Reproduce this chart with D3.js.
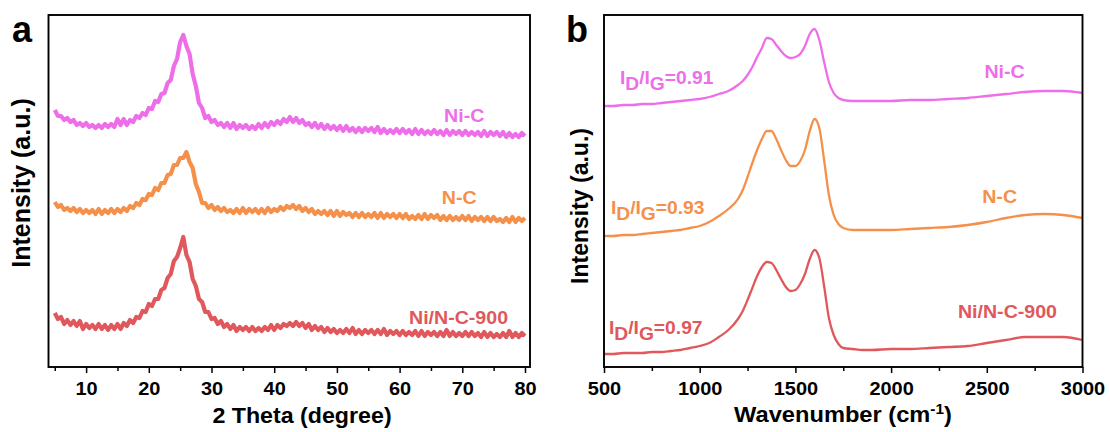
<!DOCTYPE html>
<html>
<head>
<meta charset="utf-8">
<script src="https://cdn.jsdelivr.net/npm/d3@7/dist/d3.min.js"></script>
<style>
  html, body { margin: 0; padding: 0; background: #fff; }
  svg { display: block; font-family: "Liberation Sans", Arial, sans-serif; }
</style>
</head>
<body>
<svg id="chart" width="1110" height="432"></svg>
<script>
// ---------- XRD patterns (counts, stacked) ----------
const twoTheta = d3.range(5, 80.001, 0.5);

const xrdNiC = [
  2570,2510,2510,2470,2490,2450,2470,2420,2440,2410,2440,2400,2420,2390,2420,2390,2430,2400,2430,2400,
  2480,2420,2480,2420,2470,2450,2510,2490,2540,2520,2590,2580,2660,2650,2730,2740,2840,2870,3010,3080,
  3250,3320,3210,3130,2930,2810,2640,2590,2490,2510,2450,2470,2420,2440,2400,2440,2390,2440,2380,2420,
  2390,2420,2380,2410,2380,2430,2390,2440,2400,2450,2420,2460,2430,2480,2450,2500,2450,2490,2440,2470,
  2420,2440,2400,2440,2390,2430,2380,2420,2380,2410,2370,2410,2360,2410,2360,2390,2350,2390,2350,2390,
  2360,2390,2350,2400,2340,2380,2340,2370,2340,2380,2340,2380,2340,2370,2330,2380,2330,2370,2330,2360,
  2330,2370,2330,2360,2320,2370,2320,2360,2330,2360,2320,2360,2320,2350,2320,2350,2310,2360,2310,2350,
  2320,2350,2310,2350,2300,2340,2300,2330,2300,2340,2310
];

const xrdNC = [
  1650,1600,1620,1570,1590,1560,1590,1550,1580,1540,1570,1540,1570,1530,1580,1530,1570,1540,1580,1540,
  1580,1550,1590,1560,1610,1590,1640,1620,1680,1670,1730,1720,1790,1770,1840,1840,1920,1930,2020,2020,
  2090,2090,2150,2050,1990,1830,1750,1640,1640,1590,1620,1570,1600,1560,1590,1550,1570,1540,1580,1540,
  1590,1540,1580,1550,1580,1540,1580,1540,1590,1550,1580,1560,1600,1570,1610,1590,1620,1580,1610,1560,
  1590,1550,1580,1530,1560,1530,1560,1520,1560,1510,1560,1510,1550,1520,1540,1500,1540,1500,1540,1500,
  1530,1500,1540,1490,1540,1490,1530,1500,1530,1490,1530,1490,1530,1480,1510,1480,1520,1480,1530,1480,
  1520,1490,1520,1470,1510,1470,1510,1470,1500,1470,1510,1470,1510,1460,1500,1470,1500,1460,1500,1460,
  1500,1460,1480,1450,1490,1450,1500,1450,1490,1460,1490
];

const xrdNiNC900 = [
  540,480,500,430,470,420,460,410,460,380,430,390,420,380,430,380,420,370,420,380,
  430,380,440,410,470,440,500,490,560,550,630,610,680,680,770,790,890,930,1060,1100,
  1190,1300,1120,1050,880,810,680,650,550,550,480,490,430,460,400,430,380,420,360,400,
  370,400,360,400,360,390,360,400,370,420,370,420,390,430,410,440,410,450,410,440,
  390,430,370,410,370,400,350,390,350,380,340,370,340,380,340,390,330,370,330,370,
  340,370,330,370,330,380,320,360,330,360,320,360,320,350,320,360,310,360,310,350,
  320,350,310,350,310,370,310,350,310,340,310,350,310,350,310,340,300,350,300,340,
  300,330,300,340,300,360,300,340,300,340,310
];

// ---------- Raman spectra (counts, stacked) ----------
const wavenumber = [
  500,550,600,650,700,750,800,850,900,950,1000,1050,1100,1150,1200,
  1225,1250,1275,1300,1325,1350,1375,1400,1425,1450,1475,1500,1525,1550,1575,1600,1625,1650,1675,1700,1725,1750,
  1800,1850,1900,2000,2100,2200,2300,2400,2500,2600,2700,2800,2900,3000
];

const ramanNiC = [
  2610,2610,2620,2620,2630,2630,2640,2650,2660,2670,2680,2700,2730,2760,2820,
  2860,2920,3000,3100,3190,3290,3280,3220,3160,3110,3090,3100,3130,3210,3330,3380,3270,3050,2850,2740,2690,2670,
  2660,2660,2660,2660,2670,2670,2680,2690,2710,2730,2750,2760,2760,2740
];

const ramanNC = [
  1310,1310,1320,1320,1330,1340,1350,1360,1370,1390,1410,1450,1510,1580,1680,
  1770,1900,2040,2170,2280,2360,2360,2280,2170,2070,2010,2010,2060,2170,2360,2480,2390,2070,1720,1520,1430,1390,
  1370,1370,1370,1370,1380,1390,1400,1420,1450,1490,1520,1530,1520,1490
];

const ramanNiNC900 = [
  130,130,140,140,140,150,150,160,170,190,210,240,300,370,480,
  560,670,790,910,1000,1050,1040,970,880,800,760,770,830,930,1080,1170,1090,810,490,320,230,190,
  180,170,170,180,180,190,200,210,240,270,300,300,300,270
];

const seriesNames = ["Ni-C", "N-C", "Ni/N-C-900"];
const ratioLabels = ["0.91", "0.93", "0.97"];
const colors = ["#EE6EEA", "#F5904A", "#E0585B"];

// ---------- layout ----------
const svg = d3.select("#chart");
const plotTop = 15, plotBottom = 367;
const FONT = "'Liberation Sans', Arial, sans-serif";
const WIDE = 1.08;   // slightly widened lettering

const y = d3.scaleLinear().domain([0, 3520]).range([plotBottom, plotTop]);

const xA = d3.scaleLinear().domain([4, 80.8]).range([48.5, 530]);
const xB = d3.scaleLinear().domain([500, 3000]).range([604, 1082.5]);

function frame(x) {
  const [x0, x1] = x.range();
  svg.append("rect")
    .attr("x", x0).attr("y", plotTop)
    .attr("width", x1 - x0).attr("height", plotBottom - plotTop)
    .attr("fill", "none").attr("stroke", "#000").attr("stroke-width", 1.9);
}

function bottomAxis(x, majors, minors) {
  const g = svg.append("g").attr("transform", `translate(0,${plotBottom})`);
  g.call(d3.axisBottom(x).tickValues(minors).tickSize(4).tickFormat(""))
    .call(s => s.select(".domain").remove())
    .selectAll("line").attr("stroke", "#000").attr("stroke-width", 1.5);
  const gm = svg.append("g").attr("transform", `translate(0,${plotBottom})`);
  gm.call(d3.axisBottom(x).tickValues(majors).tickSize(6).tickPadding(9).tickFormat(d3.format("d")))
    .call(s => s.select(".domain").remove());
  gm.selectAll("line").attr("stroke", "#000").attr("stroke-width", 1.5);
  gm.selectAll("text")
    .attr("fill", "#000")
    .attr("transform", `scale(${WIDE},1)`)
    .style("font-size", "18.5px")
    .style("font-weight", "bold")
    .style("font-family", FONT);
}

function drawLines(x, xs, sets, width, curve) {
  sets.forEach((vals, i) => {
    const line = d3.line()
      .x((d, j) => x(xs[j]))
      .y(d => y(d))
      .curve(curve);
    svg.append("path")
      .datum(vals)
      .attr("d", line)
      .attr("fill", "none")
      .attr("stroke", colors[i])
      .attr("stroke-width", width)
      .attr("stroke-linejoin", "round");
  });
}

function label(px, py, color, size, stretch) {
  return svg.append("text")
    .attr("transform", `translate(${px},${py}) scale(${stretch},1)`)
    .attr("fill", color)
    .style("font-size", size + "px").style("font-weight", "bold");
}

// ---------- panel a : XRD ----------
drawLines(xA, twoTheta, [xrdNiC, xrdNC, xrdNiNC900], 4.2, d3.curveLinear);
frame(xA);
bottomAxis(xA, d3.range(10, 81, 10), d3.range(5, 80, 10));

// sample names on the right of each pattern
const namePosA = [[70.3, 2450], [69.5, 1630], [69.4, 430]];
seriesNames.forEach((n, i) => {
  label(xA(namePosA[i][0]), y(namePosA[i][1]), colors[i], 17.5, 1.12)
    .attr("text-anchor", "middle").text(n);
});

label(302, 423, "#000", 21.5, WIDE).attr("text-anchor", "middle").text("2 Theta (degree)");

svg.append("text")
  .attr("transform", "translate(30,183) rotate(-90)")
  .attr("text-anchor", "middle")
  .style("font-size", "25px").style("font-weight", "bold")
  .text("Intensity (a.u.)");

svg.append("text")
  .attr("x", 12).attr("y", 42)
  .style("font-size", "36px").style("font-weight", "bold")
  .text("a");

// ---------- panel b : Raman ----------
drawLines(xB, wavenumber, [ramanNiC, ramanNC, ramanNiNC900], 2.3, d3.curveMonotoneX);
frame(xB);
bottomAxis(xB, d3.range(500, 3001, 500), d3.range(750, 3000, 500));

const namePosB = [[2593, 2890], [2567, 1640], [2608, 490]];
seriesNames.forEach((n, i) => {
  label(xB(namePosB[i][0]), y(namePosB[i][1]), colors[i], 17.5, 1.12)
    .attr("text-anchor", "middle").text(n);
});

// I_D/I_G ratio annotations
const ratioPos = [[583, 2830], [536, 1530], [526, 330]];
ratioLabels.forEach((r, i) => {
  const t = label(xB(ratioPos[i][0]), y(ratioPos[i][1]), colors[i], 17.5, 1.1);
  t.append("tspan").text("I");
  t.append("tspan").attr("dy", 6).text("D");
  t.append("tspan").attr("dy", -6).text("/I");
  t.append("tspan").attr("dy", 6).text("G");
  t.append("tspan").attr("dy", -6).text("=" + r);
});

const tb = label(843, 422, "#000", 21.5, 1.1).attr("text-anchor", "middle");
tb.append("tspan").text("Wavenumber (cm");
tb.append("tspan").attr("dy", -8).style("font-size", "14px").text("-1");
tb.append("tspan").attr("dy", 8).text(")");

svg.append("text")
  .attr("transform", "translate(588,206) rotate(-90)")
  .attr("text-anchor", "middle")
  .style("font-size", "23px").style("font-weight", "bold")
  .text("Intensity (a.u.)");

svg.append("text")
  .attr("x", 566).attr("y", 42)
  .style("font-size", "36px").style("font-weight", "bold")
  .text("b");
</script>
</body>
</html>
